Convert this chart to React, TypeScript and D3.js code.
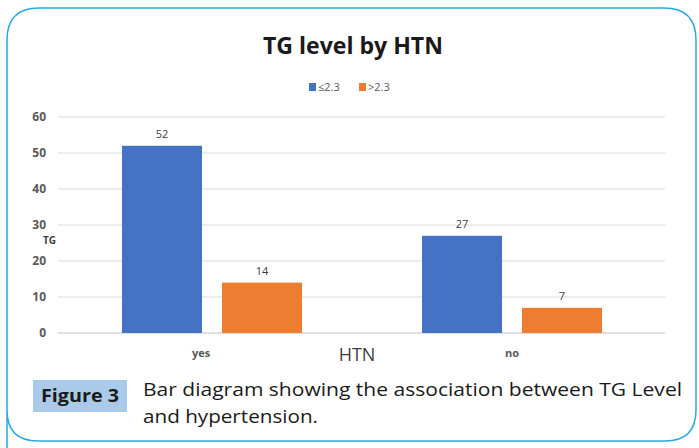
import React from "react";
import * as d3 from "d3";

const categories = ["yes", "no"];
const seriesNames = ["≤2.3", ">2.3"];
const lowValues = [52, 27];
const highValues = [14, 7];
const yTicks = [0, 10, 20, 30, 40, 50, 60];
const colors = ["#4472c4", "#ed7d31"];

export default function App() {
  const W = 699, H = 448;
  const left = 62, right = 662, top = 117, bottom = 333;
  const x = d3.scaleBand().domain(categories).range([left, right]);
  const inner = d3.scaleBand().domain(seriesNames).range([0, 180]).paddingInner(0.2);
  const y = d3.scaleLinear().domain([0, 60]).range([bottom, top]);
  const series = [lowValues, highValues];
  const font = "'Open Sans', 'Noto Sans', sans-serif";

  return (
    <svg width={W} height={H} style={{ position: "absolute", left: 0, top: 0 }} fontFamily={font}>
      <rect x={0} y={0} width={W} height={H} fill="#fff" />
      <path
        d={`M 7 448 L 7 40 Q 7 8 39 8 L 664 8 Q 696 8 696 40 L 696 410 Q 696 441 665 441 L 38 441 Q 7 441 7 410`}
        fill="none"
        stroke="#29a9e1"
        strokeWidth={1.5}
      />
      <text x={263} y={54} fontSize={22.5} fontWeight="bold" fill="#1a1a1a" textLength={180} lengthAdjust="spacingAndGlyphs">
        TG level by HTN
      </text>
      {/* legend */}
      {seriesNames.map((s, i) => (
        <g key={s} transform={`translate(${309 + i * 50},${83})`}>
          <rect x={0} y={0} width={7} height={8} fill={colors[i]} />
          <text x={9} y={8} fontSize={11} fill="#595959">{s}</text>
        </g>
      ))}
      {/* grid */}
      {yTicks.map((t) => (
        <g key={t}>
          <line x1={left - 4} x2={right + 3} y1={y(t)} y2={y(t)} stroke={t === 0 ? "#bfbfbf" : "#d9d9d9"} strokeWidth={1} />
          <text x={46} y={y(t) + 4} textAnchor="end" fontSize={12} fontWeight="bold" fill="#595959">{t}</text>
        </g>
      ))}
      <text x={43} y={244} fontSize={10} fontWeight="bold" fill="#404040">TG</text>
      {/* bars */}
      {categories.map((c, ci) => (
        <g key={c}>
          {series.map((vals, si) => {
            const bx = (x(c) as number) + (x.bandwidth() - 180) / 2 + (inner(seriesNames[si]) as number);
            const bw = inner.bandwidth();
            return (
              <g key={si}>
                <rect x={bx} y={y(vals[ci])} width={bw} height={bottom - y(vals[ci])} fill={colors[si]} />
                <text x={bx + bw / 2} y={y(vals[ci]) - 8} textAnchor="middle" fontSize={11} fill="#404040">{vals[ci]}</text>
              </g>
            );
          })}
          <text x={(x(c) as number) + x.bandwidth() / 2 - 11 * (c === "yes" ? 1 : 0)} y={357} textAnchor="middle" fontSize={11} fontWeight="bold" fill="#595959">{c}</text>
        </g>
      ))}
      <text x={357} y={361} textAnchor="middle" fontSize={18} fill="#404040">HTN</text>
      {/* caption */}
      <rect x={33} y={380} width={94} height={32} fill="#a9cbe9" />
      <text x={41} y={402} fontSize={17.5} fontWeight="bold" fill="#1a1a1a" textLength={78} lengthAdjust="spacingAndGlyphs">Figure 3</text>
      <text x={143} y={396} fontSize={19} fill="#1a1a1a" textLength={539} lengthAdjust="spacingAndGlyphs">Bar diagram showing the association between TG Level</text>
      <text x={143} y={423} fontSize={19} fill="#1a1a1a" textLength={175} lengthAdjust="spacingAndGlyphs">and hypertension.</text>
    </svg>
  );
}
